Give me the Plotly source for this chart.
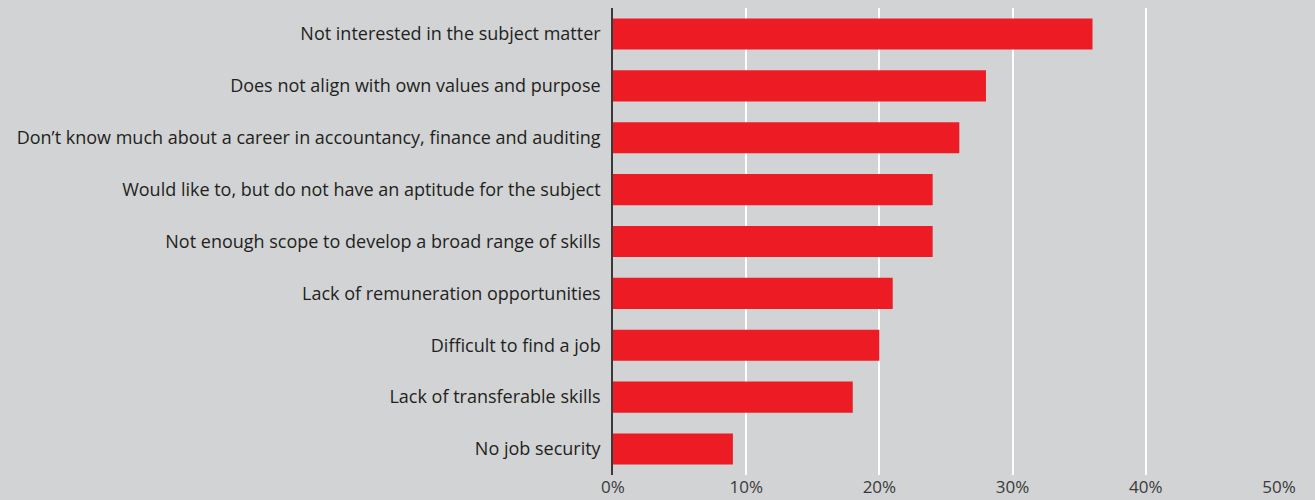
import plotly.graph_objects as go

categories = [
    "Not interested in the subject matter",
    "Does not align with own values and purpose",
    "Don\u2019t know much about a career in accountancy, finance and auditing",
    "Would like to, but do not have an aptitude for the subject",
    "Not enough scope to develop a broad range of skills",
    "Lack of remuneration opportunities",
    "Difficult to find a job",
    "Lack of transferable skills",
    "No job security",
]
values = [36, 28, 26, 24, 24, 21, 20, 18, 9]
tick_vals = [0, 10, 20, 30, 40, 50]
tick_text = ["0%", "10%", "20%", "30%", "40%", "50%"]

fig = go.Figure(go.Bar(
    x=values, y=categories, orientation="h",
    marker=dict(color="#ed1c24", line=dict(width=0)),
    width=0.6,
))

fig.update_layout(
    width=1307, height=492,
    paper_bgcolor="#d1d3d4", plot_bgcolor="#d1d3d4",
    margin=dict(l=605, r=36, t=0, b=25),
    font=dict(family="Open Sans, sans-serif", size=18, color="#231f20"),
    showlegend=False,
    bargap=0.4,
)
fig.update_xaxes(
    range=[0, 50], tickvals=tick_vals, ticktext=tick_text,
    showgrid=True, gridcolor="#ffffff", gridwidth=1.5,
    zeroline=False, showline=False, ticks="", automargin=False,
    ticklabelstandoff=0,
    tickfont=dict(size=17, color="#3a3a3a"),
)
fig.update_yaxes(
    categoryorder="array", categoryarray=categories[::-1],
    showline=True, linecolor="#3a3a3a", linewidth=1.5,
    ticks="", ticklabelstandoff=7, automargin=False,
    showgrid=False,
    tickfont=dict(size=18, color="#231f20"),
)
fig.write_html("out.html", post_script="document.body.style.background='#d1d3d4';")
